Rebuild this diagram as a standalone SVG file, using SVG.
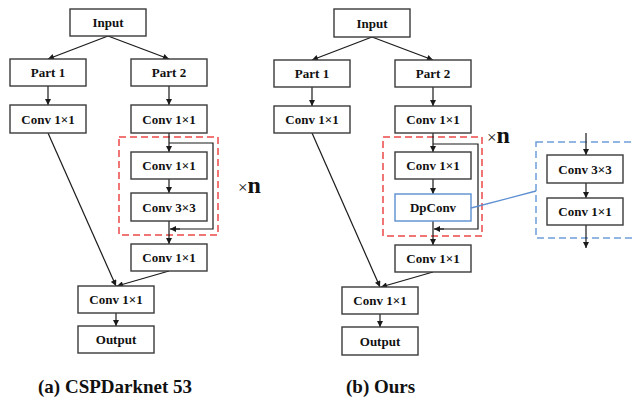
<svg xmlns="http://www.w3.org/2000/svg" width="633" height="401" viewBox="0 0 633 401">
<defs>
<marker id="ah" viewBox="0 0 10 10" refX="10" refY="5" markerWidth="7" markerHeight="6" markerUnits="userSpaceOnUse" orient="auto">
<path d="M0,0 L10,5 L0,10 z" fill="#1a1a1a"/>
</marker>
<style>
.box{fill:#fff;stroke:#3a3a3a;stroke-width:1.4}
.dp{fill:#fff;stroke:#5b8fd0;stroke-width:1.4}
.t{font-family:"Liberation Serif","Times New Roman",serif;font-weight:bold;font-size:13px;fill:#111;text-anchor:middle;dominant-baseline:central}
.cap{font-family:"Liberation Serif","Times New Roman",serif;font-weight:bold;font-size:19px;fill:#111}
.xn{font-family:"Liberation Serif","Times New Roman",serif;font-weight:bold;font-size:24px;fill:#111}
.ln{fill:none;stroke:#1a1a1a;stroke-width:1.2}
.ar{fill:none;stroke:#1a1a1a;stroke-width:1.2;marker-end:url(#ah)}
.red{fill:none;stroke:#ec4a4a;stroke-width:1.5;stroke-dasharray:7,4}
.blu{fill:none;stroke:#6e9fdc;stroke-width:1.5;stroke-dasharray:7,4}
</style>
</defs>
<rect width="633" height="401" fill="#fff"/>

<g id="groups">
<rect class="red" x="119" y="137" width="99" height="98"/>
<rect class="red" x="383" y="137" width="99" height="99"/>
<rect class="blu" x="536" y="142" width="110" height="96"/>
</g>

<g id="connectors">
<!-- left -->
<line class="ar" x1="108" y1="36" x2="48" y2="59"/>
<line class="ar" x1="108" y1="36" x2="169" y2="59"/>
<line class="ar" x1="48" y1="86" x2="48" y2="105"/>
<line class="ar" x1="169" y1="86" x2="169" y2="105"/>
<line class="ar" x1="169" y1="133" x2="169" y2="152"/>
<line class="ar" x1="169" y1="179" x2="169" y2="193"/>
<polyline class="ln" points="169,143 213,143 213,229 176,229"/>
<line class="ar" x1="180" y1="229" x2="170" y2="229"/>
<line class="ar" x1="169" y1="221" x2="169" y2="244"/>
<line class="ar" x1="48" y1="133" x2="116" y2="286"/>
<line class="ar" x1="169" y1="271" x2="117" y2="286"/>
<line class="ar" x1="116" y1="313" x2="116" y2="326"/>
<!-- right -->
<line class="ar" x1="372" y1="37" x2="312" y2="60"/>
<line class="ar" x1="372" y1="37" x2="433" y2="60"/>
<line class="ar" x1="312" y1="87" x2="312" y2="106"/>
<line class="ar" x1="433" y1="87" x2="433" y2="106"/>
<line class="ar" x1="433" y1="133" x2="433" y2="152"/>
<line class="ar" x1="433" y1="179" x2="433" y2="194"/>
<polyline class="ln" points="433,144 478,144 478,229 440,229"/>
<line class="ar" x1="444" y1="229" x2="434" y2="229"/>
<line class="ar" x1="433" y1="221" x2="433" y2="245"/>
<line class="ar" x1="312" y1="133" x2="380" y2="287"/>
<line class="ar" x1="433" y1="272" x2="381" y2="287"/>
<line class="ar" x1="380" y1="314" x2="380" y2="327"/>
<line x1="471" y1="208" x2="536" y2="191" stroke="#5b8fd0" stroke-width="1.3"/>
<line class="ar" x1="586" y1="133" x2="586" y2="155"/>
<line class="ar" x1="586" y1="183" x2="586" y2="198"/>
<line class="ar" x1="586" y1="225" x2="586" y2="248"/>
</g>

<g id="a-input"><rect class="box" x="70" y="9" width="76" height="27"/><text class="t" x="108" y="22.5">Input</text></g>
<g id="a-part1"><rect class="box" x="10" y="59" width="76" height="27"/><text class="t" x="48" y="72.5">Part 1</text></g>
<g id="a-part2"><rect class="box" x="131" y="59" width="76" height="27"/><text class="t" x="169" y="72.5">Part 2</text></g>
<g id="a-conv-l"><rect class="box" x="10" y="105" width="76" height="28"/><text class="t" x="48" y="119">Conv 1×1</text></g>
<g id="a-conv-r"><rect class="box" x="131" y="105" width="76" height="28"/><text class="t" x="169" y="119">Conv 1×1</text></g>
<g id="a-conv-in"><rect class="box" x="131" y="152" width="76" height="27"/><text class="t" x="169" y="165.5">Conv 1×1</text></g>
<g id="a-conv33"><rect class="box" x="131" y="193" width="76" height="28"/><text class="t" x="169" y="207">Conv 3×3</text></g>
<g id="a-conv-after"><rect class="box" x="131" y="244" width="76" height="27"/><text class="t" x="169" y="257.5">Conv 1×1</text></g>
<g id="a-conv-final"><rect class="box" x="78" y="286" width="76" height="27"/><text class="t" x="116" y="299.5">Conv 1×1</text></g>
<g id="a-output"><rect class="box" x="78" y="326" width="76" height="27"/><text class="t" x="116" y="339.5">Output</text></g>
<g id="a-xn"><text class="xn" x="238" y="193"><tspan font-size="17" font-weight="normal">×</tspan>n</text></g>
<g id="a-caption"><text class="cap" x="38" y="393">(a) CSPDarknet 53</text></g>

<g id="b-input"><rect class="box" x="334" y="9" width="76" height="28"/><text class="t" x="372" y="23">Input</text></g>
<g id="b-part1"><rect class="box" x="274" y="60" width="76" height="27"/><text class="t" x="312" y="73.5">Part 1</text></g>
<g id="b-part2"><rect class="box" x="395" y="60" width="76" height="27"/><text class="t" x="433" y="73.5">Part 2</text></g>
<g id="b-conv-l"><rect class="box" x="274" y="106" width="76" height="27"/><text class="t" x="312" y="119.5">Conv 1×1</text></g>
<g id="b-conv-r"><rect class="box" x="395" y="106" width="76" height="27"/><text class="t" x="433" y="119.5">Conv 1×1</text></g>
<g id="b-conv-in"><rect class="box" x="395" y="152" width="76" height="27"/><text class="t" x="433" y="165.5">Conv 1×1</text></g>
<g id="b-dpconv"><rect class="dp" x="395" y="194" width="76" height="27"/><text class="t" x="433" y="207.5">DpConv</text></g>
<g id="b-conv-after"><rect class="box" x="395" y="245" width="76" height="27"/><text class="t" x="433" y="258.5">Conv 1×1</text></g>
<g id="b-conv-final"><rect class="box" x="342" y="287" width="76" height="27"/><text class="t" x="380" y="300.5">Conv 1×1</text></g>
<g id="b-output"><rect class="box" x="342" y="327" width="76" height="28"/><text class="t" x="380" y="341">Output</text></g>
<g id="b-xn"><text class="xn" x="487" y="143"><tspan font-size="17" font-weight="normal">×</tspan>n</text></g>
<g id="c-conv33"><rect class="box" x="547" y="155" width="76" height="28"/><text class="t" x="585" y="169">Conv 3×3</text></g>
<g id="c-conv11"><rect class="box" x="547" y="198" width="76" height="27"/><text class="t" x="585" y="211.5">Conv 1×1</text></g>
<g id="b-caption"><text class="cap" x="346" y="393">(b) Ours</text></g>
</svg>
